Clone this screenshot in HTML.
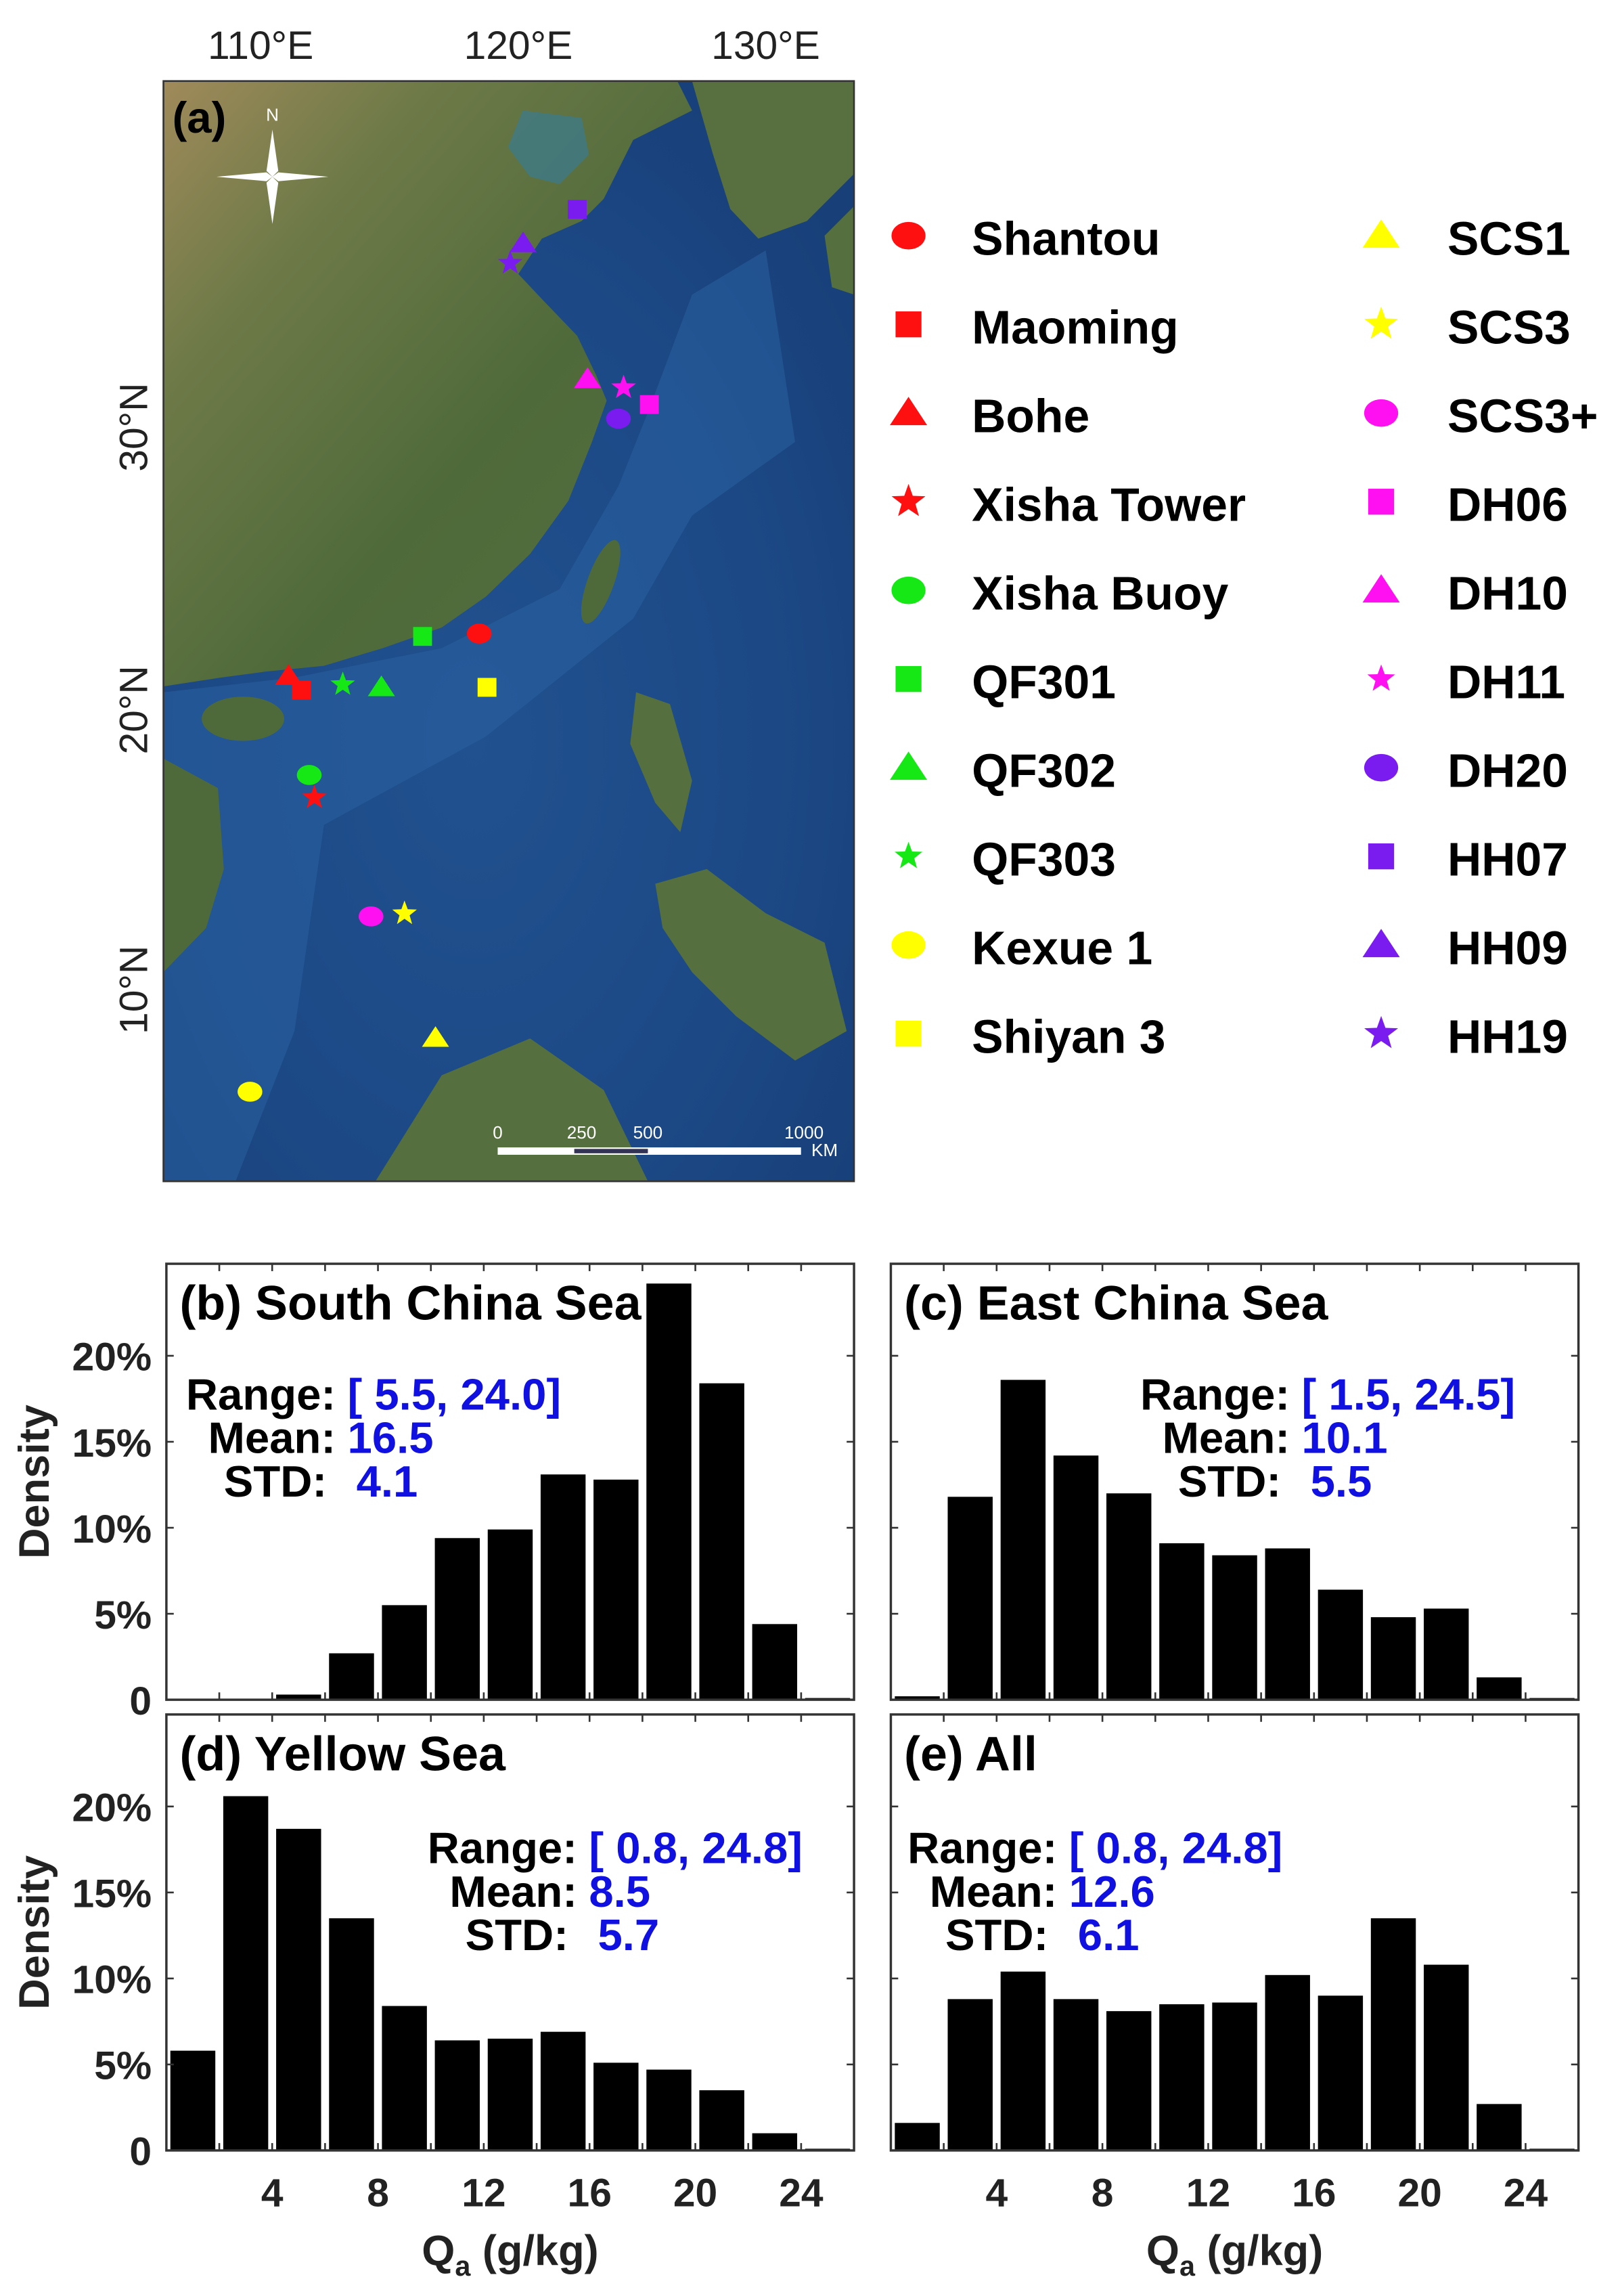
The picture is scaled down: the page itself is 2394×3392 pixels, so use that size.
<!DOCTYPE html>
<html><head><meta charset="utf-8">
<style>
html,body{margin:0;padding:0;background:#fff;}
svg{display:block;}
text{font-family:"Liberation Sans",Arial,sans-serif;}
</style></head>
<body>
<svg id="fig" width="2394" height="3392" viewBox="0 0 1100.2 1558.8" xmlns="http://www.w3.org/2000/svg">
<defs>
<linearGradient id="land" x1="0" y1="0" x2="1" y2="1">
<stop offset="0" stop-color="#a08a5a"/><stop offset="0.25" stop-color="#6e7a48"/><stop offset="0.6" stop-color="#4f6a3a"/><stop offset="1" stop-color="#56703f"/>
</linearGradient>
<radialGradient id="ocean" cx="0.45" cy="0.6" r="0.7">
<stop offset="0" stop-color="#21518f"/><stop offset="0.6" stop-color="#1c4986"/><stop offset="1" stop-color="#183f78"/>
</radialGradient>
<clipPath id="mapclip"><rect x="111" y="55" width="469" height="747"/></clipPath>
</defs>

<g id="map">
<g clip-path="url(#mapclip)">
<rect x="111" y="55" width="469" height="747" fill="url(#ocean)"/>
<path d="M111,470 L200,460 L300,440 L380,400 L420,330 L440,280 L470,200 L520,170 L540,300 L470,350 L430,420 L330,500 L220,560 L200,700 L160,802 L111,802 Z" fill="#2a61a0" opacity="0.55"/>
<path d="M111,55 L460,55 L470,75 L430,95 L410,135 L395,150 L368,162 L352,186 L368,203 L392,228 L405,255 L412,272 L402,300 L386,340 L360,376 L330,405 L300,426 L260,440 L220,452 L180,456 L150,460 L111,466 Z" fill="url(#land)"/>
<path d="M355,75 L395,80 L400,105 L380,125 L360,120 L345,100 Z" fill="#3f7a86" opacity="0.8"/>
<path d="M470,55 L580,55 L580,118 L548,150 L515,162 L496,142 L484,104 Z" fill="#58703f"/>
<ellipse cx="165" cy="488" rx="28" ry="15" fill="#4f6a3a"/>
<ellipse cx="408" cy="395" rx="9" ry="30" transform="rotate(20 408 395)" fill="#4f6a3a"/>
<path d="M111,515 L148,535 L152,590 L140,630 L111,660 Z" fill="#4f6a3a"/>
<path d="M432,470 L455,478 L470,530 L462,565 L445,545 L428,505 Z" fill="#55703e"/>
<path d="M445,600 L480,590 L520,620 L560,640 L575,700 L540,720 L500,690 L470,660 L450,630 Z" fill="#55703e"/>
<path d="M255,802 L300,730 L360,705 L410,740 L440,802 Z" fill="#55703e"/>
<path d="M560,160 L580,140 L580,200 L565,195 Z" fill="#55703e"/>
</g>
<rect x="111" y="55" width="469" height="747" fill="none" stroke="#333" stroke-width="1.2"/>
<g font-size="27" fill="#222">
<text x="177" y="40" text-anchor="middle">110°E</text>
<text x="352" y="40" text-anchor="middle">120°E</text>
<text x="520" y="40" text-anchor="middle">130°E</text>
<text transform="translate(100,290) rotate(-90)" text-anchor="middle">30°N</text>
<text transform="translate(100,482) rotate(-90)" text-anchor="middle">20°N</text>
<text transform="translate(100,672) rotate(-90)" text-anchor="middle">10°N</text>
</g>
<text x="117" y="90" font-size="30" font-weight="bold">(a)</text>
<g transform="translate(185,120)">
<polygon points="0,-32 4,-4 0,0 -4,-4" fill="#fff"/><polygon points="0,32 4,4 0,0 -4,4" fill="#fff"/>
<polygon points="-38,0 -4,-3 0,0 -4,3" fill="#fff"/><polygon points="38,0 4,-3 0,0 4,3" fill="#fff"/>
<text x="0" y="-38" font-size="12" fill="#fff" text-anchor="middle" font-family="Liberation Serif">N</text>
</g>
<g fill="#fff" font-size="12">
<rect x="338" y="779" width="206" height="5" fill="#fff"/>
<rect x="390" y="780" width="50" height="3" fill="#335"/>
<text x="338" y="773" text-anchor="middle">0</text><text x="395" y="773" text-anchor="middle">250</text>
<text x="440" y="773" text-anchor="middle">500</text><text x="546" y="773" text-anchor="middle">1000</text>
<text x="560" y="785" text-anchor="middle">KM</text>
</g>
<g id="sites"></g>
</g>

<g id="legend"></g>

<g id="hists"></g>
</svg>
<script>
const NS='http://www.w3.org/2000/svg';
function mk(tag,attrs,parent){const e=document.createElementNS(NS,tag);for(const k in attrs)e.setAttribute(k,attrs[k]);parent.appendChild(e);return e;}
function marker(shape,cx,cy,s,color,parent){
  let e;
  if(shape==='circle'){e=mk('ellipse',{cx:cx,cy:cy,rx:s*1.05,ry:s*0.85,fill:color},parent);}
  else if(shape==='square'){e=mk('rect',{x:cx-s*0.8,y:cy-s*0.8,width:s*1.6,height:s*1.6,fill:color},parent);}
  else if(shape==='triangle'){e=mk('polygon',{points:`${cx},${cy-s} ${cx+s*1.15},${cy+s*0.75} ${cx-s*1.15},${cy+s*0.75}`,fill:color},parent);}
  else {let p=[];for(let i=0;i<10;i++){const r=i%2?s*0.45:s*1.1;const a=-Math.PI/2+i*Math.PI/5;p.push((cx+r*Math.cos(a)).toFixed(1)+','+(cy+r*Math.sin(a)).toFixed(1));}e=mk('polygon',{points:p.join(' '),fill:color},parent);}
  return e;
}
const RED='#ff1010',GRN='#16e816',YEL='#ffff00',MAG='#ff10f0',PUR='#7a1cf0';
const siteNames=['Shantou','Maoming','Bohe','Xisha Tower','Xisha Buoy','QF301','QF302','QF303','Kexue 1','Shiyan 3','SCS1','SCS3','SCS3+','DH06','DH10','DH11','DH20','HH07','HH09','HH19'];
const siteShapes=['circle','square','triangle','star','circle','square','triangle','star','circle','square','triangle','star','circle','square','triangle','star','circle','square','triangle','star'];
const siteColors=[RED,RED,RED,RED,GRN,GRN,GRN,GRN,YEL,YEL,YEL,YEL,MAG,MAG,MAG,MAG,PUR,PUR,PUR,PUR];
const siteLon=[119.0,112.1,111.6,112.6,112.4,116.8,115.2,113.7,110.1,119.3,117.3,116.1,114.8,125.6,123.2,124.6,124.4,122.8,120.7,120.2];
const siteLat=[22.7,20.7,21.2,16.9,17.7,22.6,20.8,20.9,6.5,20.8,8.4,12.8,12.7,30.8,31.7,31.4,30.3,37.7,36.5,35.8];
function lonX(l){return 168+(l-110)*17.5;}
function latY(l){return 482-(l-20)*19.2;}
const sites=document.getElementById('sites');
for(let i=0;i<siteNames.length;i++){
  const m=marker(siteShapes[i],lonX(siteLon[i]),latY(siteLat[i]),8,siteColors[i],sites);
  
  
}
const leg=document.getElementById('legend');
for(let i=0;i<siteNames.length;i++){
  const col=i<10?0:1,row=i%10;
  const g=mk('g',{},leg);
  
  
  const mx=col?938:617,tx=col?983:660,y=162+row*60.2;
  marker(siteShapes[i],mx,y-2,siteShapes[i]==='star'&&(i===7||i===15)?9:11,siteColors[i],g);
  const t=mk('text',{x:tx,y:y+11,'font-size':32,'font-weight':'bold',fill:'#000'},g);t.textContent=siteNames[i];
}

const binCenters=[1,3,5,7,9,11,13,15,17,19,21,23,25];
const scsValues=[0.0,0.05,0.3,2.7,5.5,9.4,9.9,13.1,12.8,24.2,18.4,4.4,0.1];
const ecsValues=[0.2,11.8,18.6,14.2,12.0,9.1,8.4,8.8,6.4,4.8,5.3,1.3,0.1];
const ysValues=[5.8,20.6,18.7,13.5,8.4,6.4,6.5,6.9,5.1,4.7,3.5,1.0,0.1];
const allValues=[1.6,8.8,10.4,8.8,8.1,8.5,8.6,10.2,9.0,13.5,10.8,2.7,0.1];
const xTicks=[4,8,12,16,20,24];
const yTicks=[0,5,10,15,20];
const yTickLabels=['0','5%','10%','15%','20%'];

const panels=[
 {id:'b',title:'(b) South China Sea',vals:scsValues,x0:113,y0:858,ylab:true,xlab:false,stats:['[ 5.5, 24.0]','16.5','4.1'],lx:228,sy:957},
 {id:'c',title:'(c) East China Sea',vals:ecsValues,x0:605,y0:858,ylab:false,xlab:false,stats:['[ 1.5, 24.5]','10.1','5.5'],lx:876,sy:957},
 {id:'d',title:'(d) Yellow Sea',vals:ysValues,x0:113,y0:1164,ylab:true,xlab:true,stats:['[ 0.8, 24.8]','8.5','5.7'],lx:392,sy:1265},
 {id:'e',title:'(e) All',vals:allValues,x0:605,y0:1164,ylab:false,xlab:true,stats:['[ 0.8, 24.8]','12.6','6.1'],lx:718,sy:1265}
];
const W=467,H=296,XMAX=26,YMAX=25.35;
const hists=document.getElementById('hists');
panels.forEach(p=>{
  const g=mk('g',{},hists);
  
  
  const X=v=>p.x0+v/XMAX*W, Y=v=>p.y0+H-v/YMAX*H;
  p.vals.forEach((v,i)=>{
    const r=mk('rect',{x:X(binCenters[i]-0.85),y:Y(v),width:X(1.7)-X(0),height:Math.max(Y(0)-Y(v),0.6),fill:'#000'},g);
    
    
  });
  mk('rect',{x:p.x0,y:p.y0,width:W,height:H,fill:'none',stroke:'#333','stroke-width':1.6},g);
  for(let v=2;v<XMAX;v+=2){
    mk('line',{x1:X(v),x2:X(v),y1:p.y0+H,y2:p.y0+H-5,stroke:'#333','stroke-width':1.2},g);
    mk('line',{x1:X(v),x2:X(v),y1:p.y0,y2:p.y0+5,stroke:'#333','stroke-width':1.2},g);
  }
  yTicks.forEach((v,i)=>{
    mk('line',{x1:p.x0,x2:p.x0+5,y1:Y(v),y2:Y(v),stroke:'#333','stroke-width':1.2},g);
    mk('line',{x1:p.x0+W,x2:p.x0+W-5,y1:Y(v),y2:Y(v),stroke:'#333','stroke-width':1.2},g);
    if(p.ylab){const t=mk('text',{x:p.x0-10,y:Y(v)+10,'font-size':27,'font-weight':'bold','text-anchor':'end',fill:'#222'},g);t.textContent=yTickLabels[i];
      }
  });
  if(p.xlab){xTicks.forEach(v=>{const t=mk('text',{x:X(v),y:p.y0+H+38,'font-size':27,'font-weight':'bold','text-anchor':'middle',fill:'#222'},g);t.textContent=v;
      });
    const t=mk('text',{x:p.x0+W/2,y:p.y0+H+78,'font-size':29,'font-weight':'bold','text-anchor':'middle',fill:'#222'},g);
    
    t.innerHTML='Q<tspan font-size="19" dy="7">a</tspan><tspan dy="-7"> (g/kg)</tspan>';}
  if(p.ylab){const t=mk('text',{transform:`translate(${p.x0-80},${p.y0+H/2}) rotate(-90)`,'font-size':29,'font-weight':'bold','text-anchor':'middle',fill:'#222'},g);t.textContent='Density';
    }
  const tt=mk('text',{x:p.x0+9,y:p.y0+38,'font-size':33,'font-weight':'bold',fill:'#000'},g);tt.textContent=p.title;
  
  const labs=['Range:','Mean:','STD:'];
  labs.forEach((l,i)=>{
    const y=p.sy+i*29.5;
    const a=mk('text',{x:p.lx-(i==2?6:0),y:y,'font-size':30,'font-weight':'bold','text-anchor':'end',fill:'#000'},g);a.textContent=l;
    
    const b=mk('text',{x:p.lx+8+(i==2?6:0),y:y,'font-size':30,'font-weight':'bold',fill:'#1010e0'},g);b.textContent=p.stats[i];
    
  });
});
</script>
</body></html>
